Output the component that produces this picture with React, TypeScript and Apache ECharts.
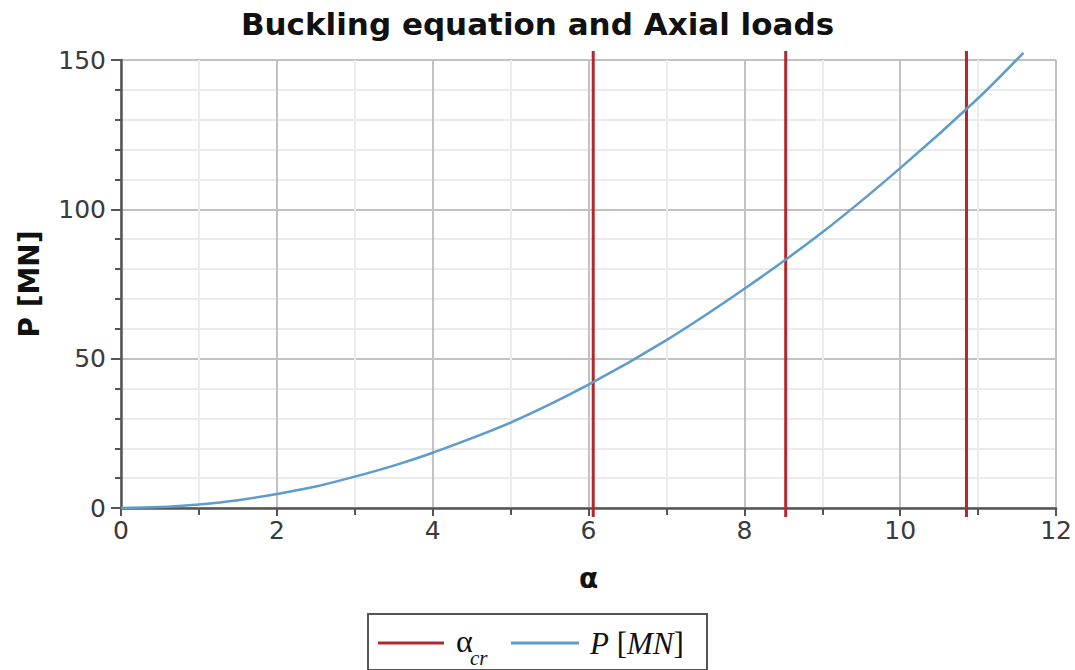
import React, { useEffect, useRef } from "react";
import * as echarts from "echarts";

// ---- data ----
const alphaValues = [0, 0.5, 1, 1.5, 2, 2.5, 3, 3.5, 4, 5, 6, 7, 8, 9, 10, 11, 11.58];
const loadValues = [0, 0.3, 1.2, 2.6, 4.7, 7.2, 10.5, 14.2, 18.5, 28.6, 41.3, 56.2, 73.4, 92.3, 113.8, 137.2, 152.4];
const criticalAlphas = [6.06, 8.53, 10.85];
const criticalLineSpan = [-3, 153];
const xRange = [0, 12];
const yRange = [0, 150];

const TITLE = "Buckling equation and Axial loads";
const X_NAME = "α";
const Y_NAME = "P [MN]";
const CRIT_NAME = "αcr";
const LOAD_NAME = "P [MN]";

const RED = "#b3282c";
const BLUE = "#5d9ccb";

export default function App() {
  const ref = useRef<HTMLDivElement>(null);

  useEffect(() => {
    if (!ref.current) return;
    const chart = echarts.init(ref.current, undefined, { renderer: "svg" });

    const curve = alphaValues.map((a, i) => [a, loadValues[i]]);
    const critSeries = criticalAlphas.map((a) => ({
      name: CRIT_NAME,
      type: "line",
      data: criticalLineSpan.map((p) => [a, p]),
      showSymbol: false,
      clip: false,
      lineStyle: { color: RED, width: 3 },
      itemStyle: { color: RED },
      z: 3,
    }));

    const serifFont = "'Liberation Serif', 'DejaVu Serif', serif";

    chart.setOption({
      animation: false,
      backgroundColor: "#ffffff",
      title: {
        text: TITLE,
        left: "center",
        top: 3,
        textStyle: {
          fontFamily: "'DejaVu Sans', sans-serif",
          fontWeight: "bold",
          fontSize: 31,
          color: "#111111",
        },
      },
      grid: { left: 121, right: 18, top: 60, bottom: 162, containLabel: false },
      xAxis: {
        type: "value",
        min: xRange[0],
        max: xRange[1],
        interval: 2,
        name: X_NAME,
        nameLocation: "middle",
        nameGap: 56,
        nameTextStyle: {
          fontFamily: "'DejaVu Sans', sans-serif",
          fontWeight: "bold",
          fontSize: 28,
          color: "#111111",
        },
        axisLine: { show: true, onZero: false, lineStyle: { color: "#555555", width: 2.5 } },
        axisTick: { show: true, length: 8, lineStyle: { color: "#555555", width: 2 } },
        minorTick: { show: true, splitNumber: 2, length: 7, lineStyle: { color: "#555555", width: 2 } },
        axisLabel: {
          margin: 10,
          fontFamily: "'DejaVu Sans', sans-serif",
          fontSize: 25,
          color: "#3a3a3a",
        },
        splitLine: { show: true, lineStyle: { color: "#c2c2c2", width: 2 } },
        minorSplitLine: { show: true, lineStyle: { color: "#ebebeb", width: 2 } },
      },
      yAxis: {
        type: "value",
        min: yRange[0],
        max: yRange[1],
        interval: 50,
        name: Y_NAME,
        nameLocation: "middle",
        nameGap: 78,
        nameRotate: 90,
        nameTextStyle: {
          fontFamily: "'DejaVu Sans', sans-serif",
          fontWeight: "bold",
          fontSize: 28,
          color: "#111111",
        },
        axisLine: { show: true, onZero: false, lineStyle: { color: "#555555", width: 2.5 } },
        axisTick: { show: true, length: 10, lineStyle: { color: "#555555", width: 2 } },
        minorTick: { show: true, splitNumber: 5, length: 6, lineStyle: { color: "#555555", width: 2 } },
        axisLabel: {
          margin: 15,
          fontFamily: "'DejaVu Sans', sans-serif",
          fontSize: 25,
          color: "#3a3a3a",
        },
        splitLine: { show: true, lineStyle: { color: "#c2c2c2", width: 2 } },
        minorSplitLine: { show: true, lineStyle: { color: "#ebebeb", width: 2 } },
      },
      series: [
        ...critSeries,
        {
          name: LOAD_NAME,
          type: "line",
          data: curve,
          smooth: 0.3,
          showSymbol: false,
          clip: false,
          lineStyle: { color: BLUE, width: 2.5 },
          itemStyle: { color: BLUE },
          z: 4,
        },
      ],
      graphic: [
        {
          type: "group",
          left: 367,
          top: 613,
          children: [
            {
              type: "rect",
              shape: { x: 0, y: 0, width: 339, height: 56 },
              style: { fill: "#ffffff", stroke: "#555555", lineWidth: 2 },
            },
            {
              type: "line",
              shape: { x1: 10, y1: 29, x2: 76, y2: 29 },
              style: { stroke: RED, lineWidth: 3 },
            },
            {
              type: "text",
              x: 88,
              y: 27,
              style: {
                text: "α",
                font: `32px ${serifFont}`,
                fill: "#111111",
                verticalAlign: "middle",
              },
            },
            {
              type: "text",
              x: 102,
              y: 44,
              style: {
                text: "cr",
                font: `italic 21px ${serifFont}`,
                fill: "#111111",
                verticalAlign: "middle",
              },
            },
            {
              type: "line",
              shape: { x1: 143, y1: 29, x2: 211, y2: 29 },
              style: { stroke: BLUE, lineWidth: 3 },
            },
            {
              type: "text",
              x: 222,
              y: 29,
              style: {
                text: "{i|P} {n|[}{i|MN}{n|]}",
                verticalAlign: "middle",
                rich: {
                  i: { font: `italic 31px ${serifFont}`, fill: "#111111" },
                  n: { font: `31px ${serifFont}`, fill: "#111111" },
                },
                font: `31px ${serifFont}`,
                fill: "#111111",
              },
            },
          ],
        },
      ],
    });

    return () => chart.dispose();
  }, []);

  return (
    <div
      ref={ref}
      style={{ position: "absolute", left: 0, top: 0, width: 1075, height: 670 }}
    />
  );
}
